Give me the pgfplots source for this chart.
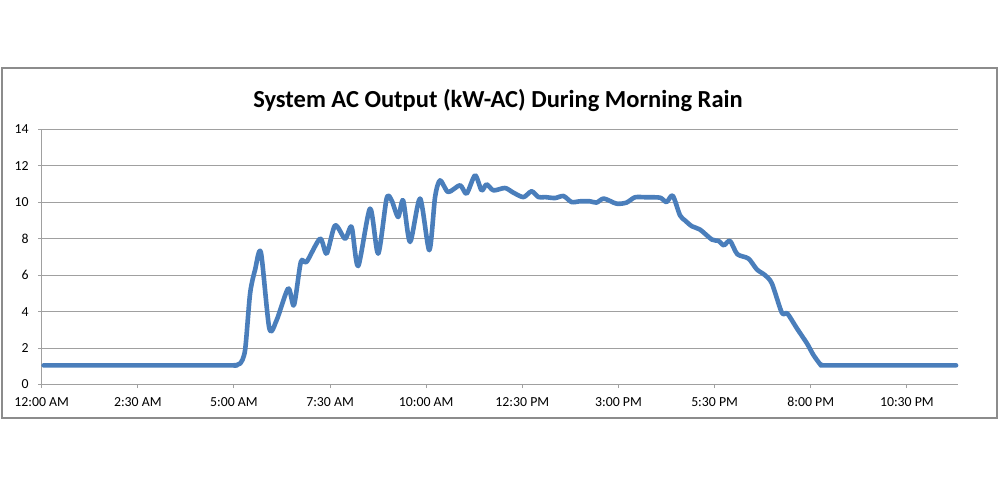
\documentclass[border=0pt]{standalone}
\usepackage{pgfplots}
\pgfplotsset{compat=1.18}
\usepackage{fontspec}
\setmainfont{Carlito}
\definecolor{lineblue}{RGB}{74,126,187}
\definecolor{gridgray}{RGB}{160,160,160}
\definecolor{framegray}{RGB}{140,140,140}
\begin{document}
\begin{tikzpicture}
\path[use as bounding box] (0pt,0pt) rectangle (1000pt,485pt);
\fill[white] (0pt,0pt) rectangle (1000pt,485pt);
\draw[framegray, line width=1.3pt] (2pt,67pt) rectangle (997pt,417pt);
\node[font=\bfseries\fontsize{24.5}{28}\selectfont, anchor=center] at (498pt,385pt) {System AC Output (kW-AC) During Morning Rain};
\begin{axis}[
  at={(41.7pt,100.5pt)}, anchor=south west,
  scale only axis, width=916.3pt, height=255.2pt,
  xmin=0, xmax=23.83, ymin=0, ymax=14,
  axis x line*=bottom, axis y line*=left,
  axis line style={gridgray, line width=1pt},
  xtick={0,2.5,5,7.5,10,12.5,15,17.5,20,22.5},
  xticklabels={12:00 AM,2:30 AM,5:00 AM,7:30 AM,10:00 AM,12:30 PM,3:00 PM,5:30 PM,8:00 PM,10:30 PM},
  ytick={0,2,4,6,8,10,12,14},
  ymajorgrids, grid style={gridgray, line width=1pt},
  tick align=outside, major tick length=3.5pt,
  tick style={gridgray, line width=1pt},
  /pgf/number format/assume math mode=true,
  tick label style={font=\fontsize{13.8}{15}\selectfont, black},
  yticklabel style={xshift=-6pt},
  xticklabel style={yshift=-6pt},
  clip=false,
]
\addplot[lineblue, line width=4.6pt, line cap=round, line join=round, smooth, tension=0.45] coordinates {
(0.05,1.05) (4.75,1.05) (4.97,1.05) (5.16,1.15) (5.29,1.9) (5.42,5.0) (5.55,6.3) (5.70,7.25)
(5.92,3.08) (6.11,3.53) (6.41,5.27) (6.56,4.35) (6.74,6.73) (6.89,6.73) (7.24,8.0)
(7.41,7.18) (7.63,8.73) (7.89,8.0) (8.06,8.64) (8.23,6.5) (8.54,9.65) (8.75,7.18)
(8.97,10.2) (9.10,10.1) (9.27,9.19) (9.40,10.1) (9.58,7.82) (9.84,10.2) (10.08,7.37)
(10.23,10.28) (10.36,11.2) (10.57,10.56) (10.88,10.93) (11.05,10.47) (11.27,11.47)
(11.44,10.65) (11.57,10.98) (11.75,10.65) (12.05,10.78) (12.27,10.52) (12.53,10.28)
(12.74,10.6) (12.92,10.28) (13.09,10.28) (13.35,10.23) (13.57,10.34) (13.78,10.01)
(14.0,10.05) (14.26,10.05) (14.43,9.98) (14.62,10.2) (14.95,9.92) (15.21,9.98)
(15.43,10.27) (15.73,10.27) (16.08,10.25) (16.25,10.01) (16.41,10.36) (16.60,9.28)
(16.73,9.0) (16.91,8.68) (17.12,8.5) (17.43,7.95) (17.60,7.88) (17.74,7.64) (17.90,7.88)
(18.09,7.15) (18.38,6.91) (18.60,6.31) (18.81,6.0) (18.99,5.54) (19.25,3.93) (19.39,3.9)
(19.64,3.08) (19.90,2.26) (20.07,1.62) (20.25,1.1) (20.32,1.05) (20.5,1.05) (23.78,1.05)
};
\end{axis}
\end{tikzpicture}
\end{document}
